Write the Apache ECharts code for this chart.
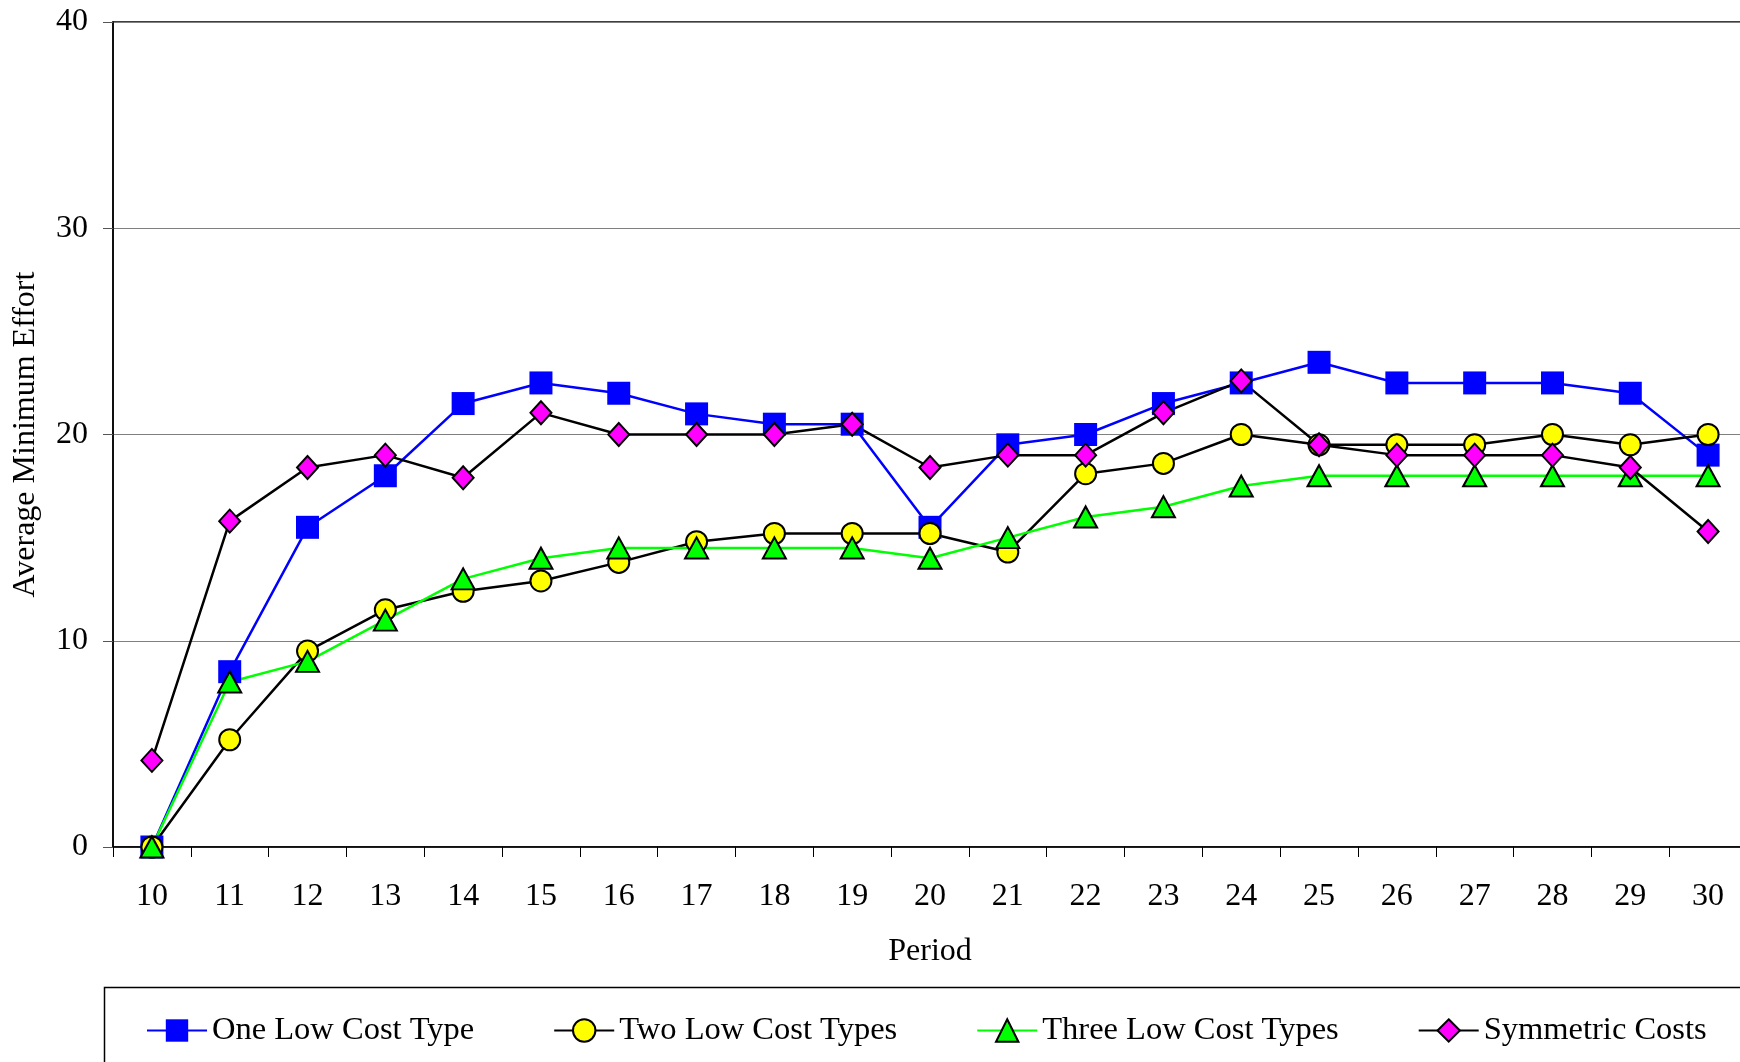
<!DOCTYPE html>
<html>
<head>
<meta charset="utf-8">
<script src="https://cdn.jsdelivr.net/npm/echarts@6/dist/echarts.min.js"></script>
<style>
html,body{margin:0;padding:0;background:#fff;}
#chart{width:1740px;height:1062px;}
</style>
</head>
<body>
<div id="chart"></div>
<script>
const periods = ['10','11','12','13','14','15','16','17','18','19','20','21','22','23','24','25','26','27','28','29','30'];
const oneLowCost = [0, 8.5, 15.5, 18, 21.5, 22.5, 22, 21, 20.5, 20.5, 15.5, 19.5, 20, 21.5, 22.5, 23.5, 22.5, 22.5, 22.5, 22, 19];
const twoLowCost = [0, 5.2, 9.5, 11.5, 12.4, 12.9, 13.8, 14.8, 15.2, 15.2, 15.2, 14.3, 18.1, 18.6, 20, 19.5, 19.5, 19.5, 20, 19.5, 20];
const threeLowCost = [0, 8, 9, 11, 13, 14, 14.5, 14.5, 14.5, 14.5, 14, 15, 16, 16.5, 17.5, 18, 18, 18, 18, 18, 18];
const symmetric = [4.2, 15.8, 18.4, 19, 17.9, 21.05, 20, 20, 20, 20.5, 18.4, 19, 19, 21.05, 22.6, 19.5, 19, 19, 19, 18.4, 15.3];
const seriesNames = ['One Low Cost Type', 'Two Low Cost Types', 'Three Low Cost Types', 'Symmetric Costs'];

const FONT = "'Liberation Serif', 'Times New Roman', serif";
const chart = echarts.init(document.getElementById('chart'), null, {renderer: 'canvas'});

chart.setOption({
  backgroundColor: '#fff',
  animation: false,
  textStyle: {fontFamily: FONT, color: '#000'},
  grid: {
    left: 113, top: 22, width: 1634, height: 825,
    containLabel: false, outerBoundsMode: 'none',
    show: true, borderColor: '#000', borderWidth: 1.5, backgroundColor: '#fff'
  },
  legend: {
    left: 141, top: 1009,
    itemWidth: 60, itemHeight: 28, itemGap: 79,
    textStyle: {fontFamily: FONT, fontSize: 32.5, color: '#000'},
    data: seriesNames
  },
  graphic: [{
    type: 'rect', z: 100,
    shape: {x: 104.5, y: 987.5, width: 1700, height: 200},
    style: {fill: 'none', stroke: '#000', lineWidth: 1.5}
  }],
  xAxis: {
    type: 'category',
    data: periods,
    boundaryGap: true,
    name: 'Period',
    nameLocation: 'middle',
    nameGap: 89,
    nameTextStyle: {fontFamily: FONT, fontSize: 32, color: '#000'},
    axisLine: {lineStyle: {color: '#000', width: 1.5}},
    axisTick: {show: true, alignWithLabel: false, length: 10, lineStyle: {color: '#000', width: 1}},
    axisLabel: {fontFamily: FONT, fontSize: 32, color: '#000', margin: 34},
    splitLine: {show: false}
  },
  yAxis: {
    type: 'value',
    min: 0, max: 40, interval: 10,
    name: 'Average Minimum Effort',
    nameLocation: 'middle',
    nameGap: 71,
    nameRotate: 90,
    nameTextStyle: {fontFamily: FONT, fontSize: 32, color: '#000'},
    axisLine: {show: true, lineStyle: {color: '#000', width: 1.5}},
    axisTick: {show: true, length: 10, lineStyle: {color: '#555', width: 1}},
    axisLabel: {fontFamily: FONT, fontSize: 32, color: '#000', margin: 25},
    splitLine: {show: true, lineStyle: {color: '#808080', width: 1}}
  },
  series: [
    {
      name: seriesNames[0], type: 'line', data: oneLowCost,
      symbol: 'rect', symbolSize: 23,
      lineStyle: {color: '#0000FF', width: 2.5},
      itemStyle: {color: '#0000FF', borderColor: '#0000FF', borderWidth: 0}
    },
    {
      name: seriesNames[1], type: 'line', data: twoLowCost,
      symbol: 'circle', symbolSize: 21,
      lineStyle: {color: '#000', width: 2.5},
      itemStyle: {color: '#FFFF00', borderColor: '#000', borderWidth: 2}
    },
    {
      name: seriesNames[2], type: 'line', data: threeLowCost,
      symbol: 'triangle', symbolSize: [23, 21],
      lineStyle: {color: '#00FF00', width: 2.5},
      itemStyle: {color: '#00FF00', borderColor: '#000', borderWidth: 2}
    },
    {
      name: seriesNames[3], type: 'line', data: symmetric,
      symbol: 'diamond', symbolSize: [21, 23],
      lineStyle: {color: '#000', width: 2.5},
      itemStyle: {color: '#FF00FF', borderColor: '#000', borderWidth: 2}
    }
  ]
});
</script>
</body>
</html>
